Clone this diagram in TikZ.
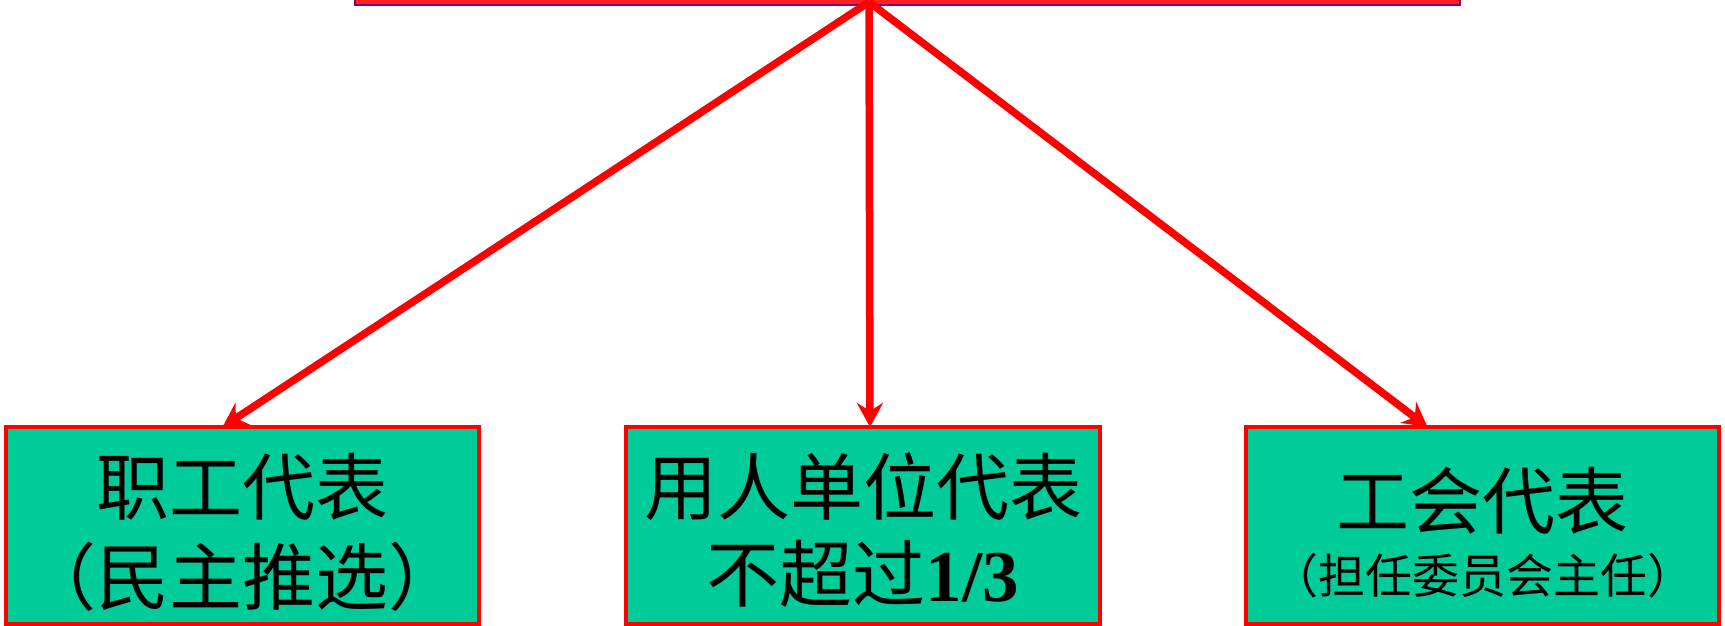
\documentclass[tikz,border=0pt]{standalone}
\usepackage{fontspec}
\setmainfont{Liberation Serif}
\newfontfamily\cjk{Noto Sans CJK SC}
\usetikzlibrary{arrows.meta}
\definecolor{boxfill}{HTML}{00CC99}
\definecolor{barfill}{HTML}{FF2020}
\definecolor{barline}{HTML}{800080}
\tikzset{
  box/.style={draw=red, line width=4pt, fill=boxfill, minimum width=473pt, minimum height=197pt, inner sep=0pt, outer sep=0pt},
  big/.style={font=\cjk\fontsize{73pt}{80pt}\selectfont, inner sep=0pt},
  small/.style={font=\cjk\fontsize{47pt}{52pt}\selectfont, inner sep=0pt},
  arr/.style={draw=red, line width=7.5pt, -{Stealth[length=24pt,width=26pt,inset=8pt]}},
}
\begin{document}
\begin{tikzpicture}[x=1pt,y=-1pt]
\useasboundingbox (0,0) rectangle (1725,625);
\fill[white] (0,0) rectangle (1725,625);
\node[draw=barline, line width=2pt, fill=barfill, minimum width=1105pt, minimum height=30pt, inner sep=0pt] (top) at (907.5,-10) {};
\coordinate (apex) at (869,2);
\node[box] (b1) at (242.5,525.5) {};
\node[box, minimum width=474pt] (b2) at (863,525.5) {};
\node[box] (b3) at (1482.5,525.5) {};
\node[big] (t1a) at (242.5,487) {职工代表};
\node[big] (t1b) at (242.5,577) {（民主推选）};
\node[big] (t2a) at (863,487) {用人单位代表};
\node[big] (t2b) at (863,574) {不超过{\rmfamily\bfseries 1/3}};
\node[big] (t3a) at (1482.5,501) {工会代表};
\node[small] (t3b) at (1482.5,576) {（担任委员会主任）};
\draw[arr] (apex) -- ([xshift=-20pt]b1.north);
\draw[arr] (apex) -- ([xshift=7pt]b2.north);
\draw[arr] (apex) -- ([xshift=-55pt]b3.north);
\end{tikzpicture}
\end{document}
